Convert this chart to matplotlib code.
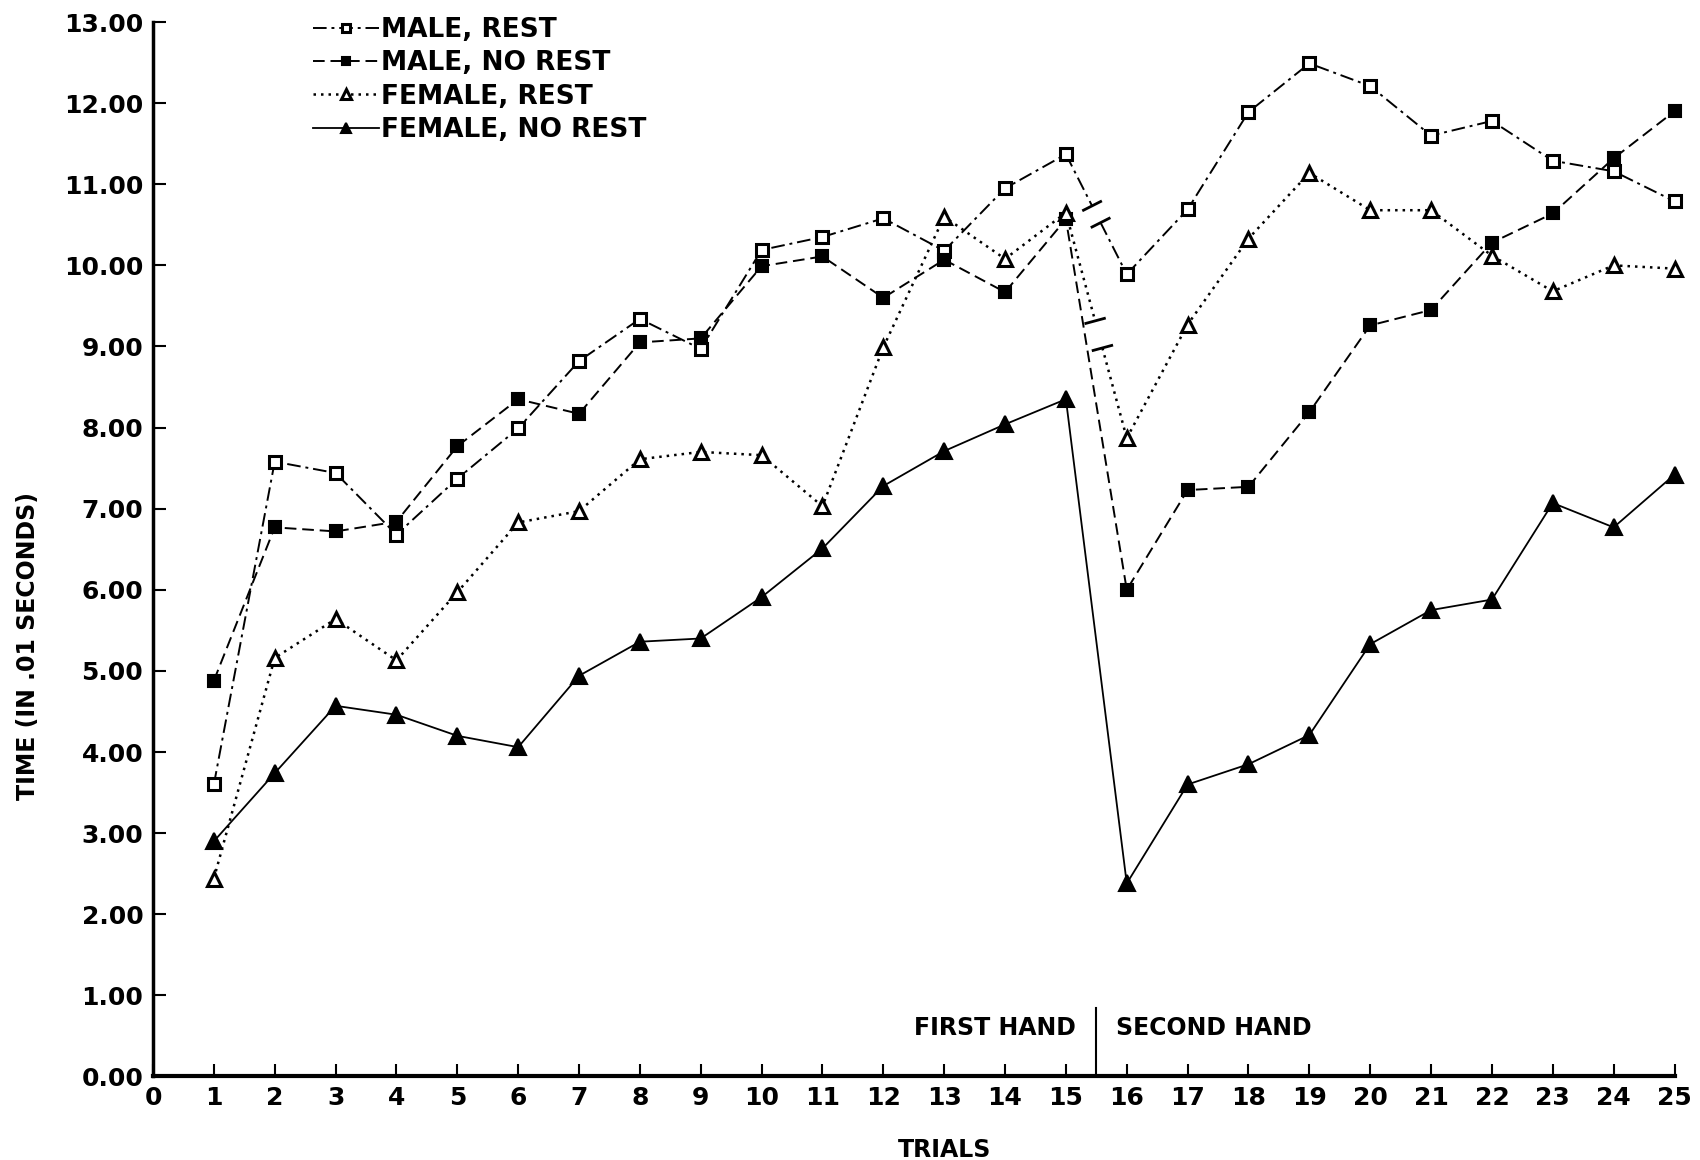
import numpy as np
import matplotlib
matplotlib.use('Agg')
import matplotlib.pyplot as plt
from matplotlib.lines import Line2D

# trial numbers and mean times (in .01 seconds)
trials = np.arange(1, 26)

male_rest = [3.60, 7.58, 7.44, 6.68, 7.37, 7.99, 8.82, 9.34, 8.97, 10.19,
             10.35, 10.58, 10.18, 10.95, 11.37, 9.89, 10.69, 11.89, 12.49, 12.21,
             11.60, 11.78, 11.29, 11.16, 10.79]
male_no_rest = [4.88, 6.77, 6.72, 6.84, 7.77, 8.35, 8.17, 9.05, 9.10, 9.99,
                10.11, 9.60, 10.07, 9.67, 10.57, 6.00, 7.23, 7.27, 8.19, 9.26,
                9.45, 10.28, 10.64, 11.32, 11.90]
female_rest = [2.44, 5.16, 5.64, 5.13, 5.97, 6.83, 6.97, 7.61, 7.70, 7.66,
               7.03, 8.99, 10.60, 10.08, 10.65, 7.87, 9.27, 10.33, 11.14, 10.68,
               10.68, 10.12, 9.68, 10.00, 9.96]
female_no_rest = [2.90, 3.74, 4.57, 4.46, 4.20, 4.06, 4.94, 5.36, 5.40, 5.91,
                  6.51, 7.28, 7.71, 8.04, 8.35, 2.38, 3.60, 3.85, 4.21, 5.33,
                  5.75, 5.88, 7.07, 6.77, 7.42]

labels = ['MALE, REST', 'MALE, NO REST', 'FEMALE, REST', 'FEMALE, NO REST']
y_ticks = np.arange(0, 14, 1)
x_ticks = np.arange(0, 26, 1)

bold = dict(family='DejaVu Sans', weight='bold')

fig = plt.figure(figsize=(17, 11.6), dpi=100)
ax = fig.add_axes([0.090, 0.072, 0.895, 0.909])
ax.set_xlim(0, 25)
ax.set_ylim(0, 13)

# styles: dash-dot / dashed / dotted / solid
styles = [
    dict(ls=(0, (7, 2.5, 1.5, 2.5)), lw=1.4, marker='s', ms=8, mfc='white', mew=2.2),
    dict(ls=(0, (6, 3)), lw=1.4, marker='s', ms=8.5, mfc='black', mew=1.5),
    dict(ls=(0, (1, 2)), lw=1.8, marker='^', ms=10, mfc='white', mew=2.2),
    dict(ls='-', lw=1.3, marker='^', ms=11, mfc='black', mew=1.5),
]
series = [male_rest, male_no_rest, female_rest, female_no_rest]
rest = [True, False, True, False]

fig.canvas.draw()


def broken_link(x0, y0, x1, y1, st, t_a, t_b):
    # link between trial 15 and 16 drawn with a break and two small bars
    xa, ya = x0 + t_a * (x1 - x0), y0 + t_a * (y1 - y0)
    xb, yb = x0 + t_b * (x1 - x0), y0 + t_b * (y1 - y0)
    ax.plot([x0, xa], [y0, ya], color='black', ls=st['ls'], lw=st['lw'])
    ax.plot([xb, x1], [yb, y1], color='black', ls=st['ls'], lw=st['lw'])
    p0 = ax.transData.transform((x0, y0))
    p1 = ax.transData.transform((x1, y1))
    d = (p1 - p0) / np.hypot(*(p1 - p0))
    n = np.array([-d[1], d[0]]) * 11
    inv = ax.transData.inverted()
    for xm, ym in [(xa, ya), (xb, yb)]:
        c = ax.transData.transform((xm, ym))
        e = inv.transform(np.vstack([c - n, c + n]))
        ax.plot(e[:, 0], e[:, 1], color='black', lw=2.0, solid_capstyle='butt')


handles = []
for vals, st, lab, r in zip(series, styles, labels, rest):
    vals = np.array(vals)
    if r:
        ax.plot(trials[:15], vals[:15], color='black', ls=st['ls'], lw=st['lw'])
        ax.plot(trials[15:], vals[15:], color='black', ls=st['ls'], lw=st['lw'])
        broken_link(trials[14], vals[14], trials[15], vals[15], st,
                    0.43 if lab.startswith('MALE') else 0.48,
                    0.57 if lab.startswith('MALE') else 0.60)
    else:
        ax.plot(trials, vals, color='black', ls=st['ls'], lw=st['lw'])
    ax.plot(trials, vals, ls='none', marker=st['marker'], ms=st['ms'],
            mfc=st['mfc'], mec='black', mew=st['mew'], clip_on=False, zorder=3)
    handles.append(Line2D([], [], color='black', ls=st['ls'], lw=st['lw'],
                          marker=st['marker'], ms=st['ms'] * 0.85, mfc=st['mfc'],
                          mec='black', mew=st['mew'], label=lab))

leg = ax.legend(handles=handles, loc='upper left', bbox_to_anchor=(0.098, 1.015),
                frameon=False, handlelength=2.5, handletextpad=0.1,
                labelspacing=0.28, borderaxespad=0, markerscale=0.8,
                prop=dict(family='DejaVu Sans', weight='bold', size=19))

# first / second hand divider
ax.plot([15.5, 15.5], [0, 0.85], color='black', lw=1.5)
ax.text(15.17, 0.6, 'FIRST HAND', ha='right', va='center', fontsize=17, **bold)
ax.text(15.82, 0.6, 'SECOND HAND', ha='left', va='center', fontsize=17, **bold)

ax.set_yticks(y_ticks)
ax.set_yticklabels([f'{v:.2f}' for v in y_ticks])
ax.set_xticks(x_ticks)
ax.tick_params(direction='in', length=9, width=1.5, labelsize=18, pad=7)
for t in ax.get_xticklabels() + ax.get_yticklabels():
    t.set_fontweight('bold')
    t.set_family('DejaVu Sans')

for side in ['top', 'right']:
    ax.spines[side].set_visible(False)
ax.spines['left'].set_linewidth(2.5)
ax.spines['bottom'].set_linewidth(3.0)

ax.set_ylabel('TIME (IN .01 SECONDS)', fontsize=17, **bold)
ax.yaxis.set_label_coords(-0.074, 0.408)
ax.set_xlabel('TRIALS', fontsize=17, **bold)
ax.xaxis.set_label_coords(0.52, -0.058)

fig.savefig('out.png', dpi=100)
